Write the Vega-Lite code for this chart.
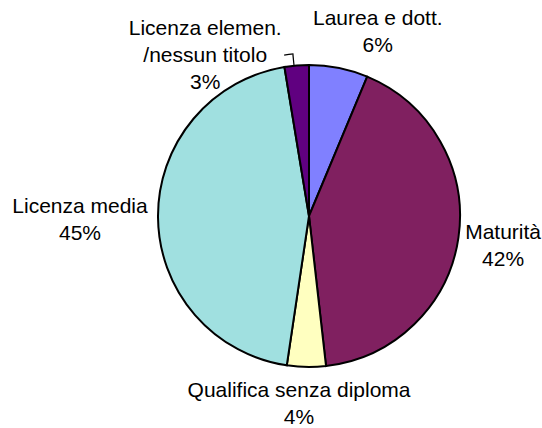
{
  "$schema": "https://vega.github.io/schema/vega-lite/v6.json",
  "width": 440,
  "height": 424,
  "autosize": {"type": "none"},
  "padding": {"left": 89, "top": 4, "right": 13, "bottom": 0},
  "background": "white",
  "config": {"view": {"stroke": null}, "text": {"font": "Liberation Sans"}},
  "data": {"values": [
    {"cat": "Laurea e dott.", "pct": 6.3, "ord": 1, "lines": ["Laurea e dott.", "6%"]},
    {"cat": "Maturità", "pct": 41.9, "ord": 2, "lines": ["Maturità", "42%"]},
    {"cat": "Qualifica senza diploma", "pct": 4.15, "ord": 3, "lines": ["Qualifica senza diploma", "4%"]},
    {"cat": "Licenza media", "pct": 45.05, "ord": 4, "lines": ["Licenza media", "45%"]},
    {"cat": "Licenza elemen./nessun titolo", "pct": 2.6, "ord": 5, "lines": ["Licenza elemen.", "/nessun titolo", "3%"]}
  ]},
  "layer": [
    {
      "mark": {"type": "arc", "outerRadius": 151, "stroke": "black", "strokeWidth": 2},
      "encoding": {
        "theta": {"field": "pct", "type": "quantitative", "stack": true},
        "order": {"field": "ord", "type": "quantitative"},
        "color": {"field": "cat", "type": "nominal", "legend": null,
          "scale": {"domain": ["Laurea e dott.", "Maturità", "Qualifica senza diploma", "Licenza media", "Licenza elemen./nessun titolo"],
                    "range": ["#8080FF", "#802060", "#FFFFC0", "#A0E0E0", "#600080"]}}
      }
    },
    {
      "mark": {"type": "text", "radius": 190, "dx": 31.4, "dy": -10.8, "fontSize": 21, "lineHeight": 27, "align": "center", "baseline": "middle", "color": "black"},
      "encoding": {
        "theta": {"field": "pct", "type": "quantitative", "stack": true},
        "order": {"field": "ord", "type": "quantitative"},
        "text": {"condition": {"test": "datum.ord == 1", "field": "lines"}, "value": ""}
      }
    },
    {
      "mark": {"type": "text", "radius": 190, "dx": 6, "dy": -9.5, "fontSize": 21, "lineHeight": 27, "align": "center", "baseline": "middle", "color": "black"},
      "encoding": {
        "theta": {"field": "pct", "type": "quantitative", "stack": true},
        "order": {"field": "ord", "type": "quantitative"},
        "text": {"condition": {"test": "datum.ord == 2", "field": "lines"}, "value": ""}
      }
    },
    {
      "mark": {"type": "text", "radius": 190, "dx": -6.7, "dy": -14.5, "fontSize": 21, "lineHeight": 27, "align": "center", "baseline": "middle", "color": "black"},
      "encoding": {
        "theta": {"field": "pct", "type": "quantitative", "stack": true},
        "order": {"field": "ord", "type": "quantitative"},
        "text": {"condition": {"test": "datum.ord == 3", "field": "lines"}, "value": ""}
      }
    },
    {
      "mark": {"type": "text", "radius": 190, "dx": -39, "dy": -10.9, "fontSize": 21, "lineHeight": 27, "align": "center", "baseline": "middle", "color": "black"},
      "encoding": {
        "theta": {"field": "pct", "type": "quantitative", "stack": true},
        "order": {"field": "ord", "type": "quantitative"},
        "text": {"condition": {"test": "datum.ord == 4", "field": "lines"}, "value": ""}
      }
    },
    {
      "mark": {"type": "text", "radius": 190, "dx": -88.3, "dy": 2, "fontSize": 21, "lineHeight": 27, "align": "center", "baseline": "middle", "color": "black"},
      "encoding": {
        "theta": {"field": "pct", "type": "quantitative", "stack": true},
        "order": {"field": "ord", "type": "quantitative"},
        "text": {"condition": {"test": "datum.ord == 5", "field": "lines"}, "value": ""}
      }
    },
    {
      "data": {"values": [{"part": "leader"}]},
      "mark": {"type": "arc", "color": "black"},
      "encoding": {
        "theta": {"value": 6.180},
        "theta2": {"value": 6.188},
        "radius": {"value": 162.6},
        "radius2": {"value": 151}
      }
    },
    {
      "data": {"values": [{"part": "leader"}]},
      "mark": {"type": "arc", "color": "black"},
      "encoding": {
        "theta": {"value": 6.130},
        "theta2": {"value": 6.188},
        "radius": {"value": 163.4},
        "radius2": {"value": 162.2}
      }
    }
  ]
}
